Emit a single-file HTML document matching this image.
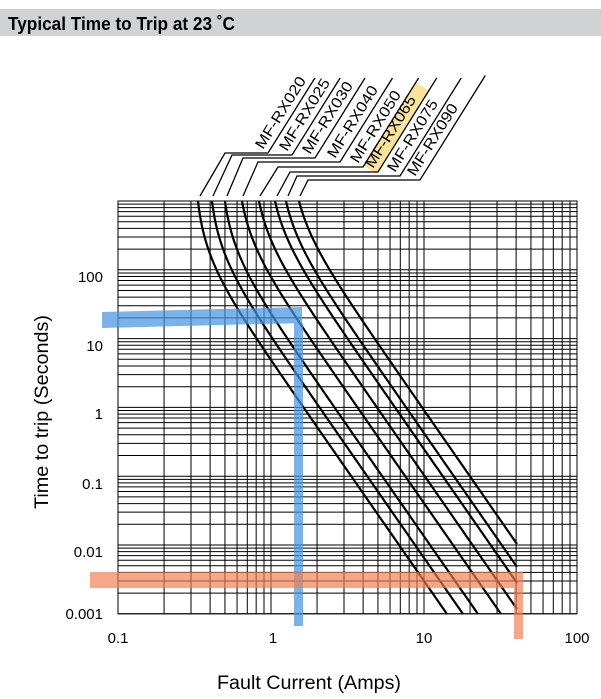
<!DOCTYPE html>
<html><head><meta charset="utf-8"><style>
html,body{margin:0;padding:0;background:#fff;width:601px;height:699px;overflow:hidden}
svg{display:block}
text{font-family:"Liberation Sans",Arial,sans-serif}
</style></head><body>
<svg id="s" width="601" height="699" viewBox="0 0 601 699" xmlns="http://www.w3.org/2000/svg">
<rect x="0" y="9" width="601" height="27" fill="#d1d2d4"/>
<text x="8" y="30" font-size="18" font-weight="bold" textLength="227" lengthAdjust="spacingAndGlyphs">Typical Time to Trip at 23 ˚C</text>
<g id="grid" stroke="#000" stroke-width="1" fill="none"></g>
<g id="curves" stroke="#000" stroke-width="2.2" fill="none"></g>
<g id="lead" stroke="#000" stroke-width="1.3" fill="none"></g>
<g id="labs" font-size="15"></g>
<polygon points="102,312 302,307 302,323 102,328" fill="rgba(70,150,225,0.72)"/>
<rect x="294" y="323" width="9" height="303" fill="rgba(70,150,225,0.72)"/>
<polygon points="90,572 523,572 523,588 90,588" fill="rgba(240,125,80,0.68)"/>
<rect x="514" y="588" width="9" height="51" fill="rgba(240,125,80,0.68)"/>
<g font-size="15" text-anchor="end">
<text x="103" y="282">100</text><text x="103" y="351">10</text><text x="103" y="419">1</text>
<text x="103" y="489">0.1</text><text x="103" y="557">0.01</text><text x="103" y="619">0.001</text>
</g>
<g font-size="15" text-anchor="middle">
<text x="118" y="643">0.1</text><text x="273" y="643">1</text><text x="424" y="643">10</text><text x="577" y="643">100</text>
</g>
<text x="309" y="689" font-size="19" text-anchor="middle" textLength="184" lengthAdjust="spacingAndGlyphs">Fault Current (Amps)</text>
<text transform="translate(48,412) rotate(-90)" font-size="19" text-anchor="middle" textLength="194" lengthAdjust="spacingAndGlyphs">Time to trip (Seconds)</text>
</svg>
<script>
var NS="http://www.w3.org/2000/svg";
function X(u){return 118+(u+1)*153;}
function Y(v){return 201+(3-v)*68.8;}
function el(p,tag,a){var e=document.createElementNS(NS,tag);for(var k in a)e.setAttribute(k,a[k]);p.appendChild(e);return e;}
var g=document.getElementById('grid');
var L=X(-1),R=X(2),T=Y(3),B=Y(-3);
for(var d=-1;d<2;d++)for(var m=1;m<10;m++){var x=X(d+Math.log10(m));el(g,'line',{x1:x,y1:T,x2:x,y2:B});}
for(var d=-3;d<3;d++)for(var m=1;m<10;m++){var y=Y(d+Math.log10(m));el(g,'line',{x1:L,y1:y,x2:R,y2:y});}
el(g,'rect',{x:L,y:T,width:R-L,height:B-T});
var tops=[198,212,225,242,259,275,286,299];
var ends=[[447,614],[463,614],[478,614],[501,614],[517,609],[517,583],[517,567],[517,544]];
var n=3.2,cg=document.getElementById('curves');
function U(px){return (px-118)/153-1;}
function V(py){return 3-(py-201)/68.8;}
for(var i=0;i<8;i++){
 var I1=Math.pow(10,U(tops[i])),I2=Math.pow(10,U(ends[i][0])),tb=Math.pow(10,V(ends[i][1]));
 var lo=1e-6,hi=I1*0.999999,target=1000/tb;
 for(var k=0;k<100;k++){var mid=(lo+hi)/2;var r=(Math.pow(I2/mid,n)-1)/(Math.pow(I1/mid,n)-1);if(r>target)hi=mid;else lo=mid;}
 var I0=(lo+hi)/2,A=1000*(Math.pow(I1/I0,n)-1);
 var pts=[],N=300;
 for(var k=0;k<=N;k++){var u=Math.log10(I1)+(Math.log10(I2)-Math.log10(I1))*Math.pow(k/N,1.8);var I=Math.pow(10,u);var t=A/(Math.pow(I/I0,n)-1);pts.push(X(u).toFixed(2)+','+Y(Math.log10(t)).toFixed(2));}
 el(cg,'polyline',{points:pts.join(' ')});
}
var lb=[[200,225],[213,232],[227,243],[243,258],[260,278],[277,290],[288,297],[300,308]];
var hy=[153,155,158,162,167,172,176,180];
var hx=[268,292,315,340,363,378,400,420];
var names=['MF-RX020','MF-RX025','MF-RX030','MF-RX040','MF-RX050','MF-RX065','MF-RX075','MF-RX090'];
var lg=document.getElementById('lead'),tg=document.getElementById('labs');
var c=Math.cos(58*Math.PI/180),s=Math.sin(58*Math.PI/180);
var hx0=hx[5]-6,hy0=hy[5]-4;
el(lg,'line',{x1:hx0-2,y1:hy0+2,x2:hx0+c*96,y2:hy0-s*96,stroke:'rgba(245,205,70,0.55)','stroke-width':15});
for(var i=0;i<8;i++){
 var len=(hy[i]-78)/s+ (i==7?3:0);
 el(lg,'polyline',{points:lb[i][0]+',196 '+lb[i][1]+','+hy[i]+' '+hx[i]+','+hy[i]+' '+(hx[i]+c*len).toFixed(1)+','+(hy[i]-s*len).toFixed(1)});
 var tx=hx[i]-5,ty=hy[i]-3;
 var t=el(tg,'text',{transform:'translate('+tx+','+ty+') rotate(-58)',textLength:82,lengthAdjust:'spacingAndGlyphs'});
 t.textContent=names[i];
}
</script>
</body></html>
